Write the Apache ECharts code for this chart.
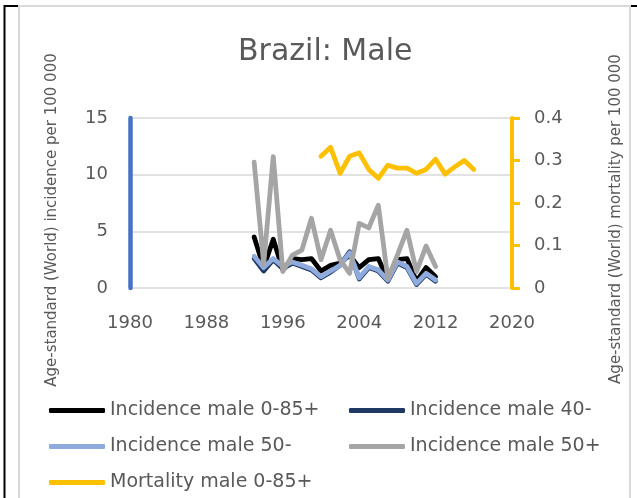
<!DOCTYPE html>
<html>
<head>
<meta charset="utf-8">
<script src="https://cdn.jsdelivr.net/npm/echarts@6/dist/echarts.min.js"></script>
<style>
  html, body { margin: 0; padding: 0; background: #fff; }
  #main { width: 637px; height: 498px; }
</style>
</head>
<body>
<div id="main"></div>
<script>
// years
const incYears = [1993, 1994, 1995, 1996, 1997, 1998, 1999, 2000, 2001, 2002, 2003, 2004, 2005, 2006, 2007, 2008, 2009, 2010, 2011, 2012];
const mortYears = [2000, 2001, 2002, 2003, 2004, 2005, 2006, 2007, 2008, 2009, 2010, 2011, 2012, 2013, 2014, 2015, 2016];

// incidence (left axis)
const incAll = [4.5, 1.8, 4.3, 1.6, 2.6, 2.5, 2.6, 1.5, 2.0, 2.2, 2.9, 1.8, 2.5, 2.6, 0.7, 2.5, 2.6, 0.6, 1.8, 1.0];
const inc40minus = [2.6, 1.5, 2.5, 1.7, 2.2, 1.9, 1.6, 0.9, 1.4, 2.0, 3.2, 0.8, 1.8, 1.5, 0.6, 2.2, 1.8, 0.3, 1.2, 0.6];
const inc50minus = [2.8, 1.8, 2.6, 1.9, 2.3, 2.0, 1.7, 1.0, 1.5, 2.0, 3.1, 0.9, 1.9, 1.6, 0.7, 2.3, 1.9, 0.4, 1.3, 0.7];
const inc50plus = [11.1, 2.1, 11.6, 1.45, 2.9, 3.35, 6.15, 2.5, 5.1, 2.5, 1.3, 5.7, 5.3, 7.3, 0.85, 2.9, 5.1, 1.45, 3.7, 1.9];

// mortality (right axis)
const mortAll = [0.31, 0.331, 0.27, 0.31, 0.318, 0.279, 0.258, 0.289, 0.282, 0.282, 0.27, 0.279, 0.303, 0.268, 0.285, 0.30, 0.279];

const names = ['Incidence male 0-85+', 'Incidence male 40-', 'Incidence male 50-', 'Incidence male 50+', 'Mortality male 0-85+'];
const colors = ['#000000', '#1F3864', '#8FAADC', '#A5A5A5', '#FFC000'];

const font = 'DejaVu Sans';
const textColor = '#595959';

function pairs(xs, ys) {
  return xs.map((x, i) => [x, ys[i]]);
}

function lineSeries(i, xs, ys, axis) {
  return {
    name: names[i],
    type: 'line',
    yAxisIndex: axis,
    data: pairs(xs, ys),
    showSymbol: false,
    color: colors[i],
    lineStyle: { width: 4.8, color: colors[i], cap: 'round', join: 'round' },
    emphasis: { disabled: true }
  };
}

const legendBase = {
  orient: 'vertical',
  top: 401,
  padding: 0,
  itemGap: 17,
  itemWidth: 56,
  itemHeight: 5,
  icon: 'roundRect',
  textStyle: { fontFamily: font, fontSize: 19, color: textColor, lineHeight: 19 }
};

const myChart = echarts.init(document.getElementById('main'));
myChart.setOption({
  backgroundColor: '#ffffff',
  animation: false,
  title: {
    text: 'Brazil: Male',
    left: 238,
    top: 37,
    padding: 0,
    textStyle: { fontFamily: font, fontSize: 30, fontWeight: 'normal', color: textColor }
  },
  legend: [
    Object.assign({}, legendBase, { left: 49, data: [names[0], names[2], names[4]] }),
    Object.assign({}, legendBase, { left: 349, data: [names[1], names[3]] })
  ],
  grid: { left: 130, right: 125, top: 118, bottom: 210 },
  xAxis: {
    type: 'value',
    min: 1980,
    max: 2020,
    interval: 8,
    axisLine: { show: false },
    axisTick: { show: false },
    splitLine: { show: false },
    axisLabel: { fontFamily: font, fontSize: 18, color: textColor, margin: 26, formatter: v => String(v) }
  },
  yAxis: [
    {
      type: 'value',
      min: 0,
      max: 15,
      interval: 5,
      axisLine: { show: true, lineStyle: { color: '#4472C4', width: 4.5 } },
      axisTick: { show: false },
      splitLine: { lineStyle: { color: '#D9D9D9', width: 1.5 } },
      axisLabel: { fontFamily: font, fontSize: 18, color: textColor, margin: 22 }
    },
    {
      type: 'value',
      min: 0,
      max: 0.4,
      interval: 0.1,
      position: 'right',
      axisLine: { show: true, lineStyle: { color: '#FFC000', width: 4 } },
      axisTick: { show: true, length: 8, lineStyle: { color: '#FFC000', width: 3 } },
      splitLine: { show: false },
      axisLabel: { fontFamily: font, fontSize: 18, color: textColor, margin: 22 }
    }
  ],
  graphic: [
    // outer frame
    { type: 'line', shape: { x1: 4.5, y1: 5, x2: 4.5, y2: 498 }, style: { stroke: '#000', lineWidth: 2 } },
    { type: 'line', shape: { x1: 4, y1: 6, x2: 19, y2: 6 }, style: { stroke: '#000', lineWidth: 2 } },
    { type: 'line', shape: { x1: 630, y1: 6, x2: 637, y2: 6 }, style: { stroke: '#000', lineWidth: 2 } },
    { type: 'polyline', shape: { points: [[19, 498], [19, 6], [630, 6], [630, 498]] }, style: { stroke: '#D9D9D9', lineWidth: 2, fill: null } },
    // axis titles
    {
      type: 'text', x: 52, y: 220, rotation: Math.PI / 2,
      style: { text: 'Age-standard (World) incidence per 100 000', fontFamily: font, fontSize: 15, fill: textColor, align: 'center', verticalAlign: 'middle' }
    },
    {
      type: 'text', x: 616, y: 219, rotation: Math.PI / 2,
      style: { text: 'Age-standard (World) mortality per 100 000', fontFamily: font, fontSize: 15, fill: textColor, align: 'center', verticalAlign: 'middle' }
    }
  ],
  series: [
    lineSeries(0, incYears, incAll, 0),
    lineSeries(1, incYears, inc40minus, 0),
    lineSeries(2, incYears, inc50minus, 0),
    lineSeries(3, incYears, inc50plus, 0),
    lineSeries(4, mortYears, mortAll, 1)
  ]
});
</script>
</body>
</html>
